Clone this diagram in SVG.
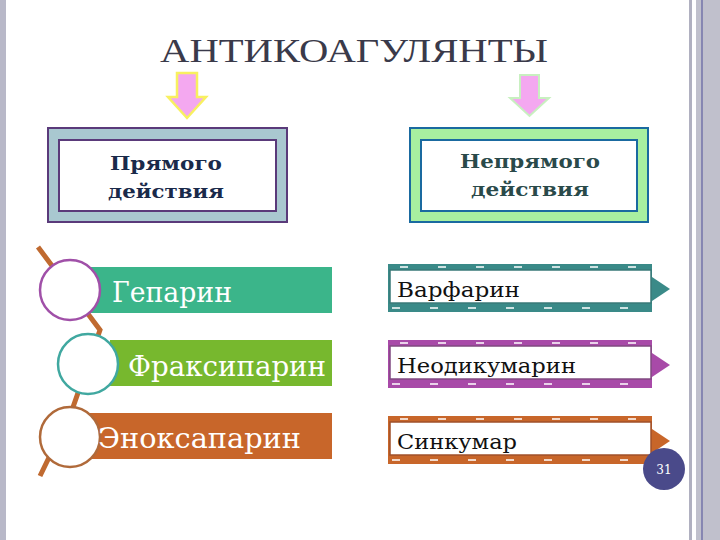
<svg xmlns="http://www.w3.org/2000/svg" width="720" height="540" viewBox="0 0 720 540">
<style>
.t{font-family:"DejaVu Serif","Liberation Serif",serif}
.h{font-size:19px;font-weight:bold;text-anchor:middle}
.w{font-size:27px;fill:#fff}
.b{font-size:21px;fill:#111}
.n{stroke:#fff;stroke-width:1.5;stroke-dasharray:8 30;fill:none}
</style>
<rect width="720" height="540" fill="#fff"/>
<rect x="0" y="0" width="6" height="540" fill="#b8b8c8"/>
<rect x="689" y="0" width="3" height="540" fill="#b0b0c0"/>
<rect x="696" y="0" width="24" height="540" fill="#c0c0cc"/>
<line x1="702" y1="0" x2="702" y2="540" stroke="#6060a0" stroke-width="1.2"/>
<g id="title"><text x="354" y="62" font-family="Liberation Serif,serif" font-size="34" text-anchor="middle" fill="#3a3a4a" textLength="388" lengthAdjust="spacingAndGlyphs">АНТИКОАГУЛЯНТЫ</text></g>
<g id="connectors">
<path d="M177,73 H197 V97 H206 L187,118 L168,97 H177 Z" fill="#f4a8f0" stroke="#f8f060" stroke-width="2.5"/>
<path d="M520,75 H539 V98 H549 L529.5,116 L510,98 H520 Z" fill="#f4a8f0" stroke="#c8f0c0" stroke-width="2"/>
<path d="M38,247 L100,330 L72,410 L40,476" stroke="#c06a30" stroke-width="5" fill="none"/>
</g>
<g id="box-direct">
<rect x="48" y="128" width="239" height="94" fill="#a9c8d0" stroke="#5a3a7a" stroke-width="2"/>
<rect x="59" y="140" width="217" height="71" fill="#fff" stroke="#5a3a7a" stroke-width="2"/>
<text class="t h" x="166" y="170" fill="#1a2a4a" textLength="112" lengthAdjust="spacingAndGlyphs">Прямого</text>
<text class="t h" x="166" y="198" fill="#1a2a4a" textLength="116" lengthAdjust="spacingAndGlyphs">действия</text>
</g>
<g id="box-indirect">
<rect x="410" y="128" width="238" height="94" fill="#a8f0a0" stroke="#1a6aa0" stroke-width="2"/>
<rect x="421" y="140" width="216" height="71" fill="#fff" stroke="#1a6aa0" stroke-width="2"/>
<text class="t h" x="530" y="168" fill="#2a4a4a" textLength="140" lengthAdjust="spacingAndGlyphs">Непрямого</text>
<text class="t h" x="530" y="196" fill="#2a4a4a" textLength="118" lengthAdjust="spacingAndGlyphs">действия</text>
</g>
<g id="n-geparin">
<rect x="90" y="267" width="242" height="46" fill="#3bb58a"/>
<circle cx="70" cy="290" r="30" fill="#fff" stroke="#a050a8" stroke-width="2.5"/>
<text class="t w" x="112" y="302" textLength="120" lengthAdjust="spacingAndGlyphs">Гепарин</text>
</g>
<g id="n-fraksiparin">
<rect x="110" y="340" width="222" height="46" fill="#77b82e"/>
<circle cx="88" cy="364" r="30" fill="#fff" stroke="#40a8a0" stroke-width="2.5"/>
<text class="t w" x="128" y="376" textLength="198" lengthAdjust="spacingAndGlyphs">Фраксипарин</text>
</g>
<g id="n-enoksaparin">
<rect x="90" y="413" width="242" height="46" fill="#c8662a"/>
<circle cx="70" cy="437" r="30" fill="#fff" stroke="#b06a3a" stroke-width="2.5"/>
<text class="t w" x="98" y="448" textLength="203" lengthAdjust="spacingAndGlyphs">Эноксапарин</text>
</g>
<g id="n-varfarin">
<rect x="388" y="264" width="264" height="48" fill="#3a8a88"/>
<line class="n" x1="400" y1="267" x2="652" y2="267"/><line class="n" x1="392" y1="308" x2="652" y2="308"/>
<path d="M652,277 L670,289 L652,301 Z" fill="#3a8a88"/>
<rect x="390" y="270" width="261" height="33" fill="#fff" stroke="#3a7a78" stroke-width="1.5"/>
<text class="t b" x="397" y="297" textLength="123" lengthAdjust="spacingAndGlyphs">Варфарин</text>
</g>
<g id="n-neodikumarin">
<rect x="388" y="340" width="264" height="48" fill="#a84aa8"/>
<line class="n" x1="400" y1="343" x2="652" y2="343"/><line class="n" x1="392" y1="384" x2="652" y2="384"/>
<path d="M652,353 L670,365 L652,377 Z" fill="#a84aa8"/>
<rect x="390" y="346" width="261" height="33" fill="#fff" stroke="#804a80" stroke-width="1.5"/>
<text class="t b" x="397" y="373" textLength="179" lengthAdjust="spacingAndGlyphs">Неодикумарин</text>
</g>
<g id="n-sinkumar">
<rect x="388" y="416" width="264" height="48" fill="#c8662a"/>
<line class="n" x1="400" y1="419" x2="652" y2="419"/><line class="n" x1="392" y1="460" x2="652" y2="460"/>
<path d="M652,429 L670,441 L652,453 Z" fill="#c8662a"/>
<rect x="390" y="422" width="261" height="33" fill="#fff" stroke="#a0502a" stroke-width="1.5"/>
<text class="t b" x="397" y="449" textLength="120" lengthAdjust="spacingAndGlyphs">Синкумар</text>
</g>
<g id="page">
<circle cx="664" cy="469" r="21" fill="#4a4a8a"/>
<text class="t" x="664" y="474" font-size="12" fill="#fff" text-anchor="middle">31</text>
</g>
</svg>
